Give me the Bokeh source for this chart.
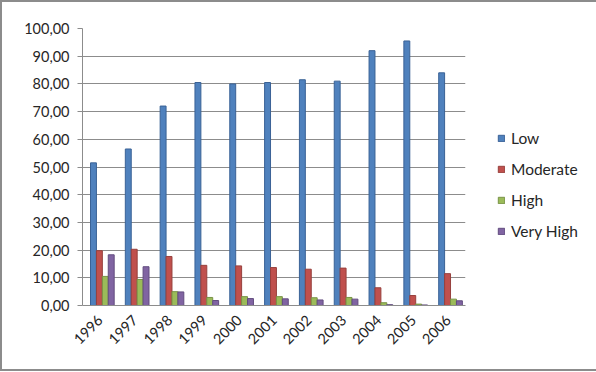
import math
from bokeh.plotting import figure
from bokeh.models import ColumnDataSource, Legend, LegendItem, FixedTicker, CustomJSTickFormatter, Range1d
from bokeh.transform import dodge
from bokeh.embed import file_html
from bokeh.resources import INLINE

years = ["1996", "1997", "1998", "1999", "2000", "2001", "2002", "2003", "2004", "2005", "2006"]
low = [51.5, 56.5, 72.0, 80.5, 80.0, 80.5, 81.5, 81.0, 92.0, 95.5, 84.0]
moderate = [19.8, 20.3, 17.7, 14.5, 14.3, 13.7, 13.1, 13.5, 6.4, 3.6, 11.5]
high = [10.5, 9.4, 5.0, 2.9, 3.2, 3.2, 2.8, 2.9, 1.0, 0.5, 2.3]
very_high = [18.3, 14.0, 4.9, 1.8, 2.5, 2.4, 2.0, 2.3, 0.3, 0.2, 1.7]
series_names = ["Low", "Moderate", "High", "Very High"]
y_ticks = [0, 10, 20, 30, 40, 50, 60, 70, 80, 90, 100]

fills = ["#4F81BD", "#C0504D", "#9BBB59", "#8064A2"]
edges = ["#3A6296", "#97403D", "#789346", "#624C7F"]

src = ColumnDataSource(dict(year=years, Low=low, Moderate=moderate, High=high, VeryHigh=very_high))
cols = ["Low", "Moderate", "High", "VeryHigh"]

p = figure(frame_width=383, frame_height=277, x_range=years, y_range=Range1d(0, 100),
           output_backend="svg", toolbar_location=None,
           min_border_left=80, min_border_right=125, min_border_top=26, min_border_bottom=64)

bw = 0.17
offsets = [-1.5 * bw, -0.5 * bw, 0.5 * bw, 1.5 * bw]
renderers = []
for c, off, f, e in zip(cols, offsets, fills, edges):
    r = p.vbar(x=dodge("year", off + 0.07, range=p.x_range), top=c, width=bw, source=src,
               fill_color=f, line_color=e, line_width=1)
    renderers.append(r)

legend = Legend(items=[LegendItem(label=n, renderers=[r]) for n, r in zip(series_names, renderers)],
                location=(32, 65), spacing=13, glyph_width=8, glyph_height=8, margin=0,
                label_text_font="Lato", label_text_font_size="15.5px", label_text_color="#262626",
                border_line_color=None, background_fill_alpha=0, padding=0, label_standoff=6)
p.add_layout(legend, "right")

p.outline_line_color = None
p.border_fill_color = "white"
p.xgrid.grid_line_color = None
p.ygrid.grid_line_color = "#8C8C8C"
p.ygrid.grid_line_width = 1

p.yaxis.ticker = FixedTicker(ticks=y_ticks)
p.yaxis.formatter = CustomJSTickFormatter(code="return tick.toFixed(2).replace('.', ',');")
p.yaxis.axis_line_color = "#8C8C8C"
p.yaxis.major_tick_line_color = "#8C8C8C"
p.yaxis.major_tick_out = 5
p.yaxis.major_tick_in = 0
p.yaxis.minor_tick_line_color = None
p.yaxis.major_label_text_font = "Lato"
p.yaxis.major_label_text_font_size = "14.5px"
p.yaxis.major_label_text_color = "#262626"
p.yaxis.major_label_standoff = 8

p.xaxis.axis_line_color = "#8C8C8C"
p.xaxis.major_tick_line_color = None
p.xaxis.major_label_orientation = math.pi / 4
p.xaxis.major_label_text_font = "Lato"
p.xaxis.major_label_text_font_size = "14.5px"
p.xaxis.major_label_text_color = "#262626"
p.xaxis.major_label_standoff = 6
p.x_range.range_padding = 0

p.styles = {"border": "2px solid #8C8C8C"}

open("out.html", "w").write(file_html(p, INLINE))
